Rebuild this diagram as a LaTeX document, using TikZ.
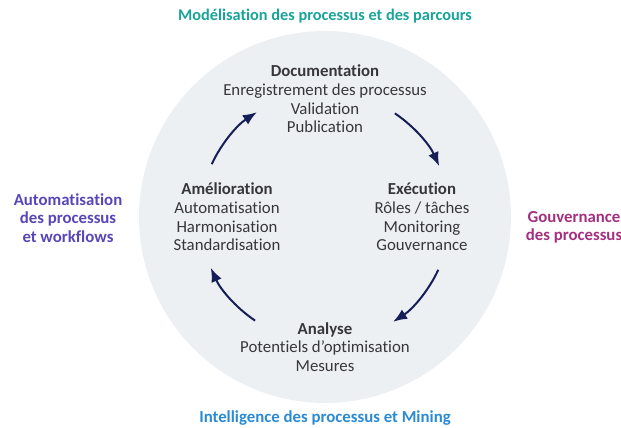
\documentclass[tikz,border=0pt]{standalone}
\usepackage{fontspec}
\setmainfont[Ligatures=NoCommon]{Carlito}
\usetikzlibrary{arrows.meta}
\definecolor{bgc}{RGB}{237,240,243}
\definecolor{txt}{RGB}{55,55,58}
\definecolor{arr}{RGB}{22,30,88}
\definecolor{teal}{RGB}{24,163,155}
\definecolor{purp}{RGB}{88,70,182}
\definecolor{mag}{RGB}{163,48,127}
\definecolor{blu}{RGB}{42,138,214}
\tikzset{
  inner/.style={align=center,text=txt,font=\fontsize{16.8}{18.6}\selectfont,inner sep=0pt},
  outer/.style={align=center,font=\fontsize{16.8}{18.2}\selectfont\bfseries,inner sep=0pt},
  cyc/.style={draw=arr,line width=2pt,-{Latex[length=14pt,width=11pt]}}
}
\begin{document}
\begin{tikzpicture}[x=1pt,y=1pt]
\useasboundingbox (0,0) rectangle (621,428);
\coordinate (c) at (325,211);
\fill[bgc] (c) circle (186);
\node[outer,text=teal,font=\fontsize{16.3}{18}\selectfont\bfseries] (t1) at (325,412) {Modélisation des processus et des parcours};
\node[outer,text=purp] (t2) at (68,210) {Automatisation\\des processus\\et workflows};
\node[outer,text=mag] (t3) at (574,201) {Gouvernance\\des processus};
\node[outer,text=blu] (t4) at (325,10) {Intelligence des processus et Mining};
\node[inner] (doc) at (325,329) {\textbf{Documentation}\\Enregistrement des processus\\Validation\\Publication};
\node[inner] (ame) at (227,211) {\textbf{Amélioration}\\Automatisation\\Harmonisation\\Standardisation};
\node[inner] (exe) at (422,211) {\textbf{Exécution}\\Rôles / tâches\\Monitoring\\Gouvernance};
\node[inner] (ana) at (325,81) {\textbf{Analyse}\\Potentiels d’optimisation\\Mesures};
\draw[cyc] (c) ++(56:125) arc[start angle=56,end angle=24,radius=125];
\draw[cyc] (c) ++(-25:125) arc[start angle=-25,end angle=-57,radius=125];
\draw[cyc] (c) ++(-124:125) arc[start angle=-124,end angle=-156,radius=125];
\draw[cyc] (c) ++(155:125) arc[start angle=155,end angle=123,radius=125];
\end{tikzpicture}
\end{document}
